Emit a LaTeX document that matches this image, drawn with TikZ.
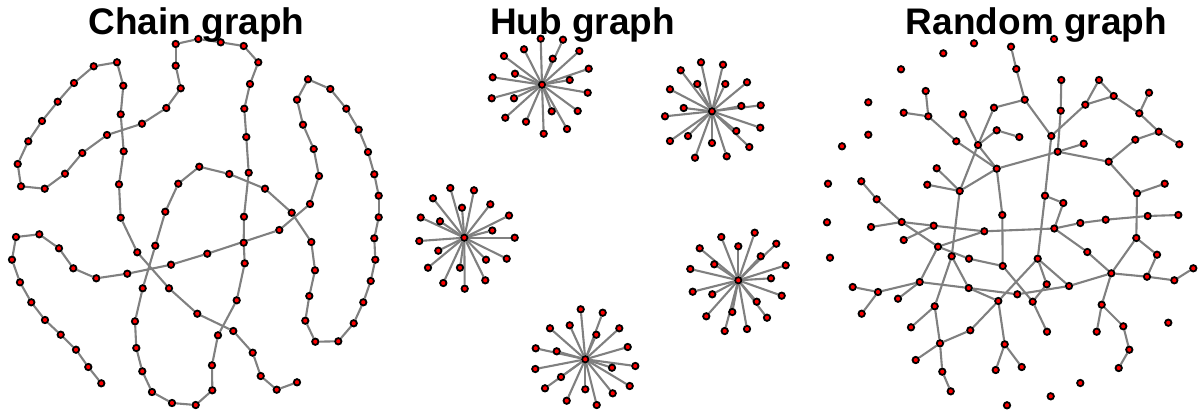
\documentclass[tikz,border=0pt]{standalone}
\usepackage{fontspec}
\setmainfont{Liberation Sans}
\usetikzlibrary{backgrounds}
\tikzset{
  vtx/.style={circle,draw=black,fill=red,line width=1.8pt,minimum size=6.4pt,inner sep=0pt},
  edg/.style={draw=gray,line width=2.1pt},
  ttl/.style={anchor=base,font=\bfseries\fontsize{37}{40}\selectfont,inner sep=0pt}
}
\begin{document}
\begin{tikzpicture}[x=1pt,y=-1pt]
\useasboundingbox (0,0) rectangle (1204,416);
% titles
\node[ttl] (t1) at (196.5,34) {Chain graph};
\node[ttl] (t2) at (582.5,34) {Hub graph};
\node[ttl] (t3) at (1036.5,34) {Random graph};
% ---------------- chain graph
\foreach \x/\y [count=\i] in {101.3/383.3,88.3/367,76/349.7,60.7/334.7,45/320,31.3/302.3,20/282.3,12/259.7,16/237,39.3/234.3,
59/248.3,73.3/268.3,96.3/278.3,127.3/273.7,171/264.7,207.3/253.7,279.3/230,310/204,319/176,313.7/149,
303/124.7,297/99.7,308/79.3,330.3/89,346.3/108.7,358.7/129.7,368/152,374.3/174.3,378.7/195.7,378.7/217.3,
374.3/238.3,375.3/259.7,370.7/281,363.3/302.3,353.7/323.3,338.3/341.3,315.3/341.7,305.3/320.7,309.3/296,315/270.3,
311.3/242,291.7/212.7,265/188.7,229.3/174,199.3/166.7,178.3/183.7,165.3/211.7,155.3/245.7,142.7/288.3,135/321.3,
136.3/348,142.3/371.3,152/392,172/403,195.7/405,212.3/390.3,212/365.3,218/335.3,236.7/300.3,244.7/263.3,
243.7/242.7,244/216.7,248.7/172.7,246.3/137,244.3/108.7,250/84,258.3/62.3,243.7/46,220.7/42.3,198.3/39,
175.7/44,175.7/65.7,180.7/88.3,166.3/108,142/123.7,107/135,82.3/153,65/173.7,44.7/188.7,21/186.3,
17.7/164,28.3/141.3,42/121,57.7/101.7,74/83,93.7/66.3,117/62.3,123.3/85.7,120.7/114.3,123.7/151.3,
119/184.3,120.7/217.7,137.3/252.3,169/288.3,197.3/313.7,233.3/331,252.7/352.7,260.7/376,276.7/389.7,297/382.3}
  \node[vtx] (c\i) at (\x,\y) {};
\begin{scope}[on background layer]
\foreach \i [remember=\i as \last (initially 1)] in {2,...,100}
  \draw[edg] (c\last) -- (c\i);
\end{scope}
% ---------------- hub graph
\node[vtx] (h1) at (542,84.7) {};
\foreach \x/\y [count=\i] in {540.7/38.7,563/39.7,579.3/51,552.7/58.7,524/49.3,504/56,515/73.7,492.7/77.3,569.7/80,588.7/68.7,
587.7/92.7,491.7/98.3,514/98.3,577.7/111,551.7/111.3,505.3/117.7,526/121.7,567/129,543.7/133.7}
  \node[vtx] (h1l\i) at (\x,\y) {};
\node[vtx] (h2) at (464.3,237.7) {};
\foreach \x/\y [count=\i] in {450.3/188,474/190.3,433/198.3,462/207.7,490.3/204.3,420.7/217.5,440/221.3,509/215.5,492.3/230.5,514.7/237.7,
419.3/241,438.3/250.7,486/259.7,506.7/258.7,428/267.7,460/267.7,443.3/283,485.3/280.3,464.7/288.7}
  \node[vtx] (h2l\i) at (\x,\y) {};
\node[vtx] (h3) at (712,111.3) {};
\foreach \x/\y [count=\i] in {701/62.3,723/64.7,680.7/70.3,697.3/84,725.3/84,747/82.3,670/89.3,683.7/108,741.3/106,760.7/105.3,
665/116.3,760.3/127.7,688/136,736.3/131,670/141,712/143,749.3/147,695/157.7,726.7/156.3}
  \node[vtx] (h3l\i) at (\x,\y) {};
\node[vtx] (h4) at (585.3,359.3) {};
\foreach \x/\y [count=\i] in {580.7/309.3,569.7/325.3,550/328.3,596.3/334.7,535.7/348.3,556.7/351.3,535.3/369,561/377,545/388.3,585.3/389.3,
566.7/400.7,596.7/405,602.7/312.7,619.3/328.3,627.7/347,635.3/366,612/367.7,629.7/386,612.7/393.3}
  \node[vtx] (h4l\i) at (\x,\y) {};
\node[vtx] (h5) at (738.3,280.3) {};
\foreach \x/\y [count=\i] in {721.3/237,754.7/232.7,738.3/246.3,699.7/248.3,776.3/243.7,760.7/256.3,714.3/264.3,690.3/269,785.7/265.3,771/278.3,
692.7/291.7,712.3/294.3,781.7/295.7,756.7/301.7,706.3/316.3,732.3/312,767/317.7,724.7/331,747/329}
  \node[vtx] (h5l\i) at (\x,\y) {};
\begin{scope}[on background layer]
\foreach \k in {1,...,5}
  \foreach \i in {1,...,19}
    \draw[edg] (h\k) -- (h\k l\i);
\end{scope}
% ---------------- random graph
\foreach \x/\y [count=\i] in {974/43.3,943.3/53.3,901/69.3,925.7/91,868.3/102.3,903.7/112.7,928.3/116.3,963/114.3,994/107.7,996.7/130.3,
868.3/134.7,842/146.3,956.3/141.3,978/145,996.7/168.7,936.7/168.3,927.3/184.7,959.7/191,828/183.7,861.3/181.3,
876.7/199.3,901.7/222,827/222.3,871/227,933.7/225.7,984.3/231.3,903.7/240,938/246.7,951.7/256.3,969/258.7,
830/257.7,852.7/287,878/292,919.7/282,898/298.7,861.7/313.7,968.7/288,998.3/301,934.7/306.3,911/327.3,
970.3/330.3,940/343.3,915.7/360,942.3/371.7,950.7/391.3,995.7/370,1002.3/215,1002.7/266,1004.7/344.3,1021.7/367,
1011/46.7,1054/39,1016.3/69,1024.7/99.7,1061.3/80,1060.7/110.7,1099/80,1085.3/104.7,1113.7/96,1149/92.7,
1139.3/113.3,1158.7/131.7,1179.3/144.3,1135.3/139.7,1019.3/137,1051.3/136,1083.7/143.7,1057.7/151.7,1108.7/161.7,1164.7/183.7,
1137/193.3,1045/195.7,1063.3/203,1080.3/223,1105.7/219.7,1147.7/216,1178.3/215,1054.3/228.5,1136.3/238,1157/254.7,
1147/276.7,1174.3/280.3,1193.3/268.3,1087.3/252,1111.3/273.3,1037.7/258.7,1046.7/284.3,1069/286,1017.3/294.3,1032.7/301.7,
1101.7/304.7,1123.3/326.3,1168.3/322.7,1047/331.7,1096.7/331.7,1129.3/349.7,1118.7/368,1080.3/383,1050.7/396.3,1007/405.3}
  \node[vtx] (r\i) at (\x,\y) {};
\begin{scope}[on background layer]
\foreach \a/\b in {4/7,6/7,7/13,13/15,8/14,9/14,10/14,14/15,14/18,15/18,16/18,17/18,18/29,9/54,10/65,15/68,15/47,
20/21,21/22,24/22,22/25,25/27,25/26,22/28,28/26,28/34,28/30,30/48,26/78,29/39,29/37,34/33,34/35,34/37,33/32,33/36,
37/38,37/89,39/40,39/42,42/41,42/43,42/44,44/45,41/38,38/49,49/46,49/50,47/48,48/90,38/86,86/87,86/88,88/89,87/90,90/94,
51/53,53/54,54/66,55/56,56/68,57/58,57/59,58/59,58/66,59/61,60/61,61/62,62/63,62/64,64/69,68/67,68/69,69/71,71/70,71/79,
66/72,72/73,73/78,72/86,78/74,74/75,75/76,76/77,78/84,79/80,80/81,79/85,85/81,81/82,82/83,84/85,85/88,85/91,91/95,91/92,92/96,96/97}
  \draw[edg] (r\a) -- (r\b);
\end{scope}
\end{tikzpicture}
\end{document}
